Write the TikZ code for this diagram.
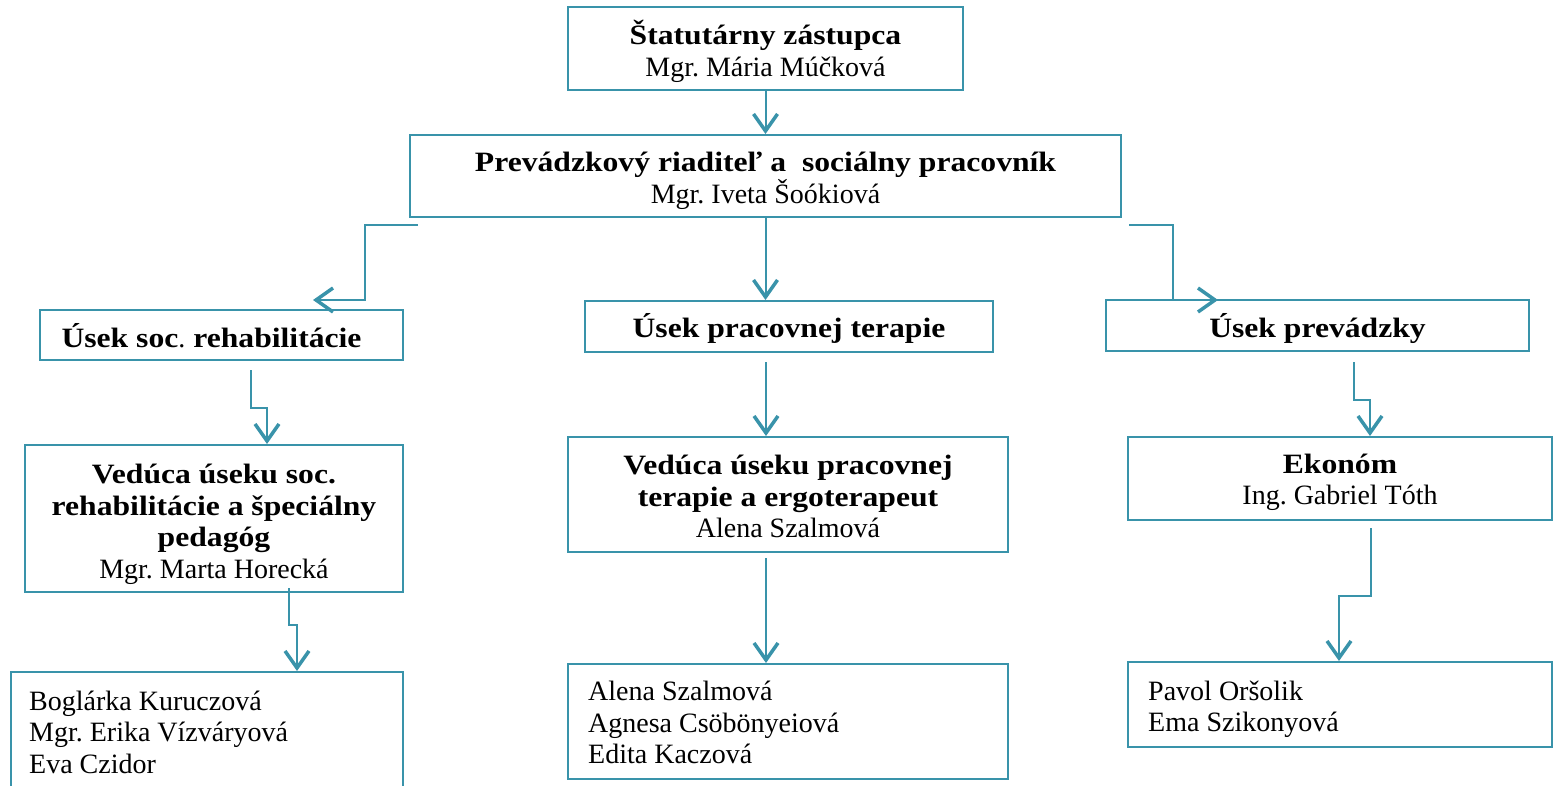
\documentclass[tikz,border=0pt]{standalone}
\usepackage{fontspec}
\setmainfont{Liberation Serif}[BoldFeatures={FakeStretch=1.13}]
\usetikzlibrary{arrows.meta}
\definecolor{teal1}{RGB}{57,147,170}
\begin{document}
\frenchspacing
\begin{tikzpicture}[x=1pt,y=-1pt,
  box/.style={draw=teal1,line width=2pt,rectangle,inner sep=0pt},
  txt/.style={inner sep=0pt,align=center,font=\fontsize{28}{31.5}\selectfont},
  ltxt/.style={inner sep=0pt,align=left,font=\fontsize{28}{31.5}\selectfont},
  conn/.style={draw=teal1,line width=2pt,
    -{Straight Barb[length=17pt,width=24pt,line width=3.5pt]}}]
\useasboundingbox (0,0) rectangle (1554,786);
% boxes
\node[box,minimum width=395pt,minimum height=83pt] (b1) at (765.5,48.5) {};
\node[box,minimum width=711pt,minimum height=82pt] (b2) at (765.5,176) {};
\node[box,minimum width=363pt,minimum height=50pt] (b3) at (221.5,335) {};
\node[box,minimum width=408pt,minimum height=51pt] (b4) at (789,326.5) {};
\node[box,minimum width=423pt,minimum height=51pt] (b5) at (1317.5,325.5) {};
\node[box,minimum width=378pt,minimum height=147pt] (b6) at (214,518.5) {};
\node[box,minimum width=440pt,minimum height=115pt] (b7) at (788,494.5) {};
\node[box,minimum width=424pt,minimum height=83pt] (b8) at (1340,478.5) {};
\node[box,minimum width=392pt,minimum height=120pt] (b9) at (207,732) {};
\node[box,minimum width=440pt,minimum height=115pt] (b10) at (788,721.5) {};
\node[box,minimum width=424pt,minimum height=85pt] (b11) at (1340,704.5) {};
% texts
\node[txt] (t1) at ([yshift=-3pt]b1.center)
  {\textbf{Štatutárny zástupca}\\Mgr. Mária Múčková};
\node[txt] (t2) at ([yshift=-5pt]b2.center)
  {\textbf{Prevádzkový riaditeľ a\ \ sociálny pracovník}\\Mgr. Iveta Šoókiová};
\node[txt] (t3) at ([xshift=-10pt,yshift=-1pt]b3.center)
  {\textbf{Úsek soc}.\textbf{ rehabilitácie}};
\node[txt] (t4) at ([yshift=-2pt]b4.center) {\textbf{Úsek pracovnej terapie}};
\node[txt] (t5) at ([yshift=-3pt]b5.center) {\textbf{Úsek prevádzky}};
\node[txt] (t6) at ([yshift=-6pt]b6.center)
  {\textbf{Vedúca úseku soc.}\\\textbf{rehabilitácie a špeciálny}\\\textbf{pedagóg}\\Mgr. Marta Horecká};
\node[txt] (t7) at ([yshift=-2pt]b7.center)
  {\textbf{Vedúca úseku pracovnej}\\\textbf{terapie a ergoterapeut}\\Alena Szalmová};
\node[txt] (t8) at ([yshift=-4pt]b8.center)
  {\textbf{Ekonóm}\\Ing. Gabriel Tóth};
\node[ltxt,anchor=west] (t9) at ([xshift=19pt]b9.west)
  {Boglárka Kuruczová\\Mgr. Erika Vízváryová\\Eva Czidor};
\node[ltxt,anchor=west] (t10) at ([xshift=21pt,yshift=-1pt]b10.west)
  {Alena Szalmová\\Agnesa Csöbönyeiová\\Edita Kaczová};
\node[ltxt,anchor=west] (t11) at ([xshift=21pt,yshift=-5pt]b11.west)
  {Pavol Oršolik\\Ema Szikonyová};
% connector points
\coordinate (s23) at (418,225);
\coordinate (t23) at (313,300);
\coordinate (s25) at (1129,225);
\coordinate (t25) at (1218,300);
\coordinate (s36) at (251,370);
\coordinate (m36) at (267,408);
\coordinate (s69) at (289,588);
\coordinate (m69) at (297,625);
\coordinate (s47) at (766,362);
\coordinate (s710) at (766,558);
\coordinate (s58) at (1354,362);
\coordinate (m58) at (1370,400);
\coordinate (s811) at (1371,528);
\coordinate (m811) at (1339,596);
% connectors
\draw[conn] (b1.south) -- (b2.north);
\draw[conn] (s23) -- (365,225) |- (t23);
\draw[conn] (b2.south) -- (b2.south |- b4.north);
\draw[conn] (s25) -- (1173,225) |- (t25);
\draw[conn] (s36) |- (m36) -- (m36 |- b6.north);
\draw[conn] (s69) |- (m69) -- (m69 |- b9.north);
\draw[conn] (s47) -- (s47 |- b7.north);
\draw[conn] (s710) -- (s710 |- b10.north);
\draw[conn] (s58) |- (m58) -- (m58 |- b8.north);
\draw[conn] (s811) |- (m811) -- (m811 |- b11.north);
\end{tikzpicture}
\end{document}
